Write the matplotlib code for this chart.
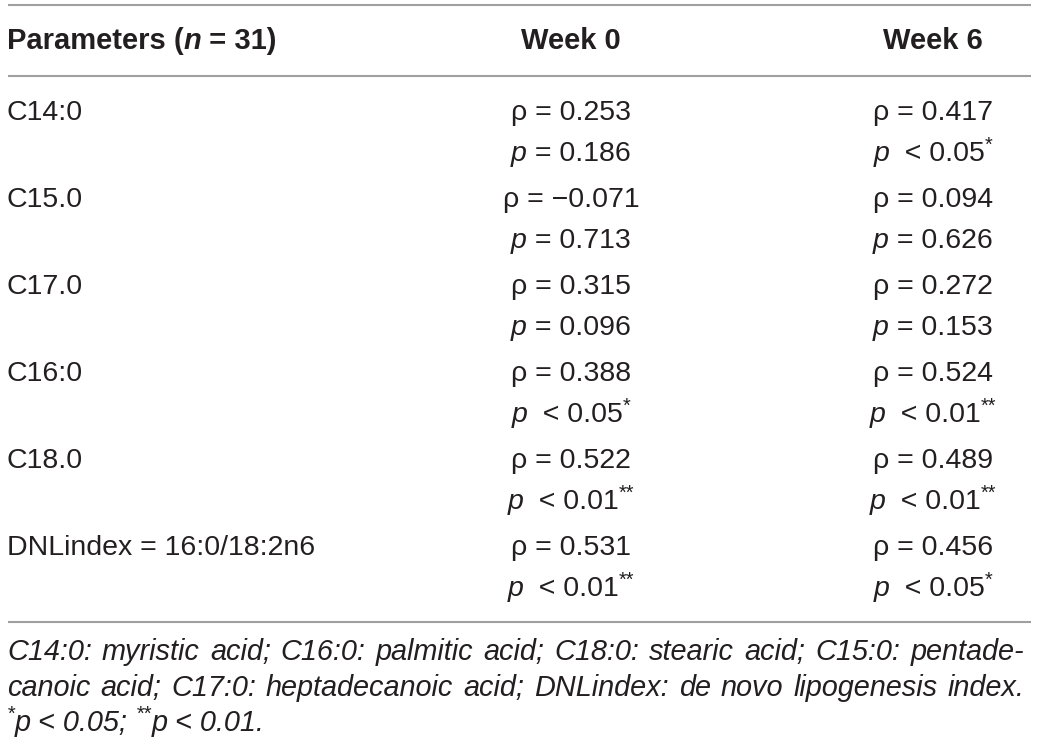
import matplotlib
matplotlib.use("Agg")
import matplotlib.pyplot as plt

# table content
params = ["C14:0", "C15.0", "C17.0", "C16:0", "C18.0", "DNLindex = 16:0/18:2n6"]
rho_week0 = ["0.253", "\u22120.071", "0.315", "0.388", "0.522", "0.531"]
p_week0 = ["= 0.186", "= 0.713", "= 0.096", "< 0.05", "< 0.01", "< 0.01"]
star_week0 = ["", "", "", "*", "**", "**"]
rho_week6 = ["0.417", "0.094", "0.272", "0.524", "0.489", "0.456"]
p_week6 = ["< 0.05", "= 0.626", "= 0.153", "< 0.01", "< 0.01", "< 0.05"]
star_week6 = ["*", "", "", "**", "**", "*"]
headers = ["Week 0", "Week 6"]
footnote = ["C14:0: myristic acid; C16:0: palmitic acid; C18:0: stearic acid; C15:0: pentade-",
            "canoic acid; C17:0: heptadecanoic acid; DNLindex: de novo lipogenesis index."]

FONT = "Liberation Sans"
INK = "#231f20"
RULE = "#a0a0a0"
FS = 20.5
NOTE_FS = 20.8

fig = plt.figure(figsize=(10.39, 7.44), dpi=100)
ax = fig.add_axes([0, 0, 1, 1])
ax.set_xlim(0, 1039)
ax.set_ylim(744, 0)
ax.axis("off")
renderer = fig.canvas.get_renderer()


def runs(x, y, parts, ha="left", size=FS, family=FONT):
    # parts: (text, style, weight, superscript)
    objs = []
    for txt, style, weight, sup in parts:
        t = ax.text(0, y - (size * 0.42 if sup else 0), txt,
                    fontsize=size * (0.7 if sup else 1),
                    fontstyle=style, fontweight=weight, family=family, color=INK,
                    va="center", ha="left")
        objs.append(t)
    widths = [o.get_window_extent(renderer).width for o in objs]
    total = sum(widths)
    start = x - total / 2 if ha == "center" else x
    for o, w in zip(objs, widths):
        o.set_x(start)
        start += w


# rules
for yy in [5, 76, 622]:
    ax.plot([8, 1031], [yy, yy], color=RULE, lw=1.5, solid_capstyle="butt")

# header
runs(7, 41, [("Parameters (", "normal", "bold", False), ("n", "italic", "bold", False),
             (" = 31)", "normal", "bold", False)], size=21)
col_x = [571, 933]
for cx, h in zip(col_x, headers):
    runs(cx, 41, [(h, "normal", "bold", False)], ha="center", size=21)

row_y = [113, 200, 287, 374, 461, 548]
for i, name in enumerate(params):
    y = row_y[i]
    runs(7, y, [(name, "normal", "normal", False)])
    for cx, rho, pv, st in [(col_x[0], rho_week0[i], p_week0[i], star_week0[i]),
                            (col_x[1], rho_week6[i], p_week6[i], star_week6[i])]:
        runs(cx, y, [("\u03c1 = " + rho, "normal", "normal", False)], ha="center")
        lead = "  " if pv.startswith("<") else " "
        parts = [("p", "italic", "normal", False), (lead + pv, "normal", "normal", False)]
        if st:
            parts.append((st, "normal", "normal", True))
        runs(cx, y + 41, parts, ha="center")

# footnote: two justified lines, then the significance key
fy = [652, 688, 723]
for j, line in enumerate(footnote):
    words = line.split(" ")
    objs = [ax.text(0, fy[j], w, fontsize=NOTE_FS, fontstyle="italic", family=FONT,
                    color=INK, va="center", ha="left") for w in words]
    widths = [o.get_window_extent(renderer).width for o in objs]
    gap = (1024 - 7 - sum(widths)) / (len(words) - 1)
    xx = 7
    for o, w in zip(objs, widths):
        o.set_x(xx)
        xx += w + gap

runs(7, fy[2], [("*", "italic", "normal", True), ("p < 0.05; ", "italic", "normal", False),
                ("**", "italic", "normal", True), ("p < 0.01.", "italic", "normal", False)],
     size=NOTE_FS)

fig.savefig("out.png", dpi=100)
